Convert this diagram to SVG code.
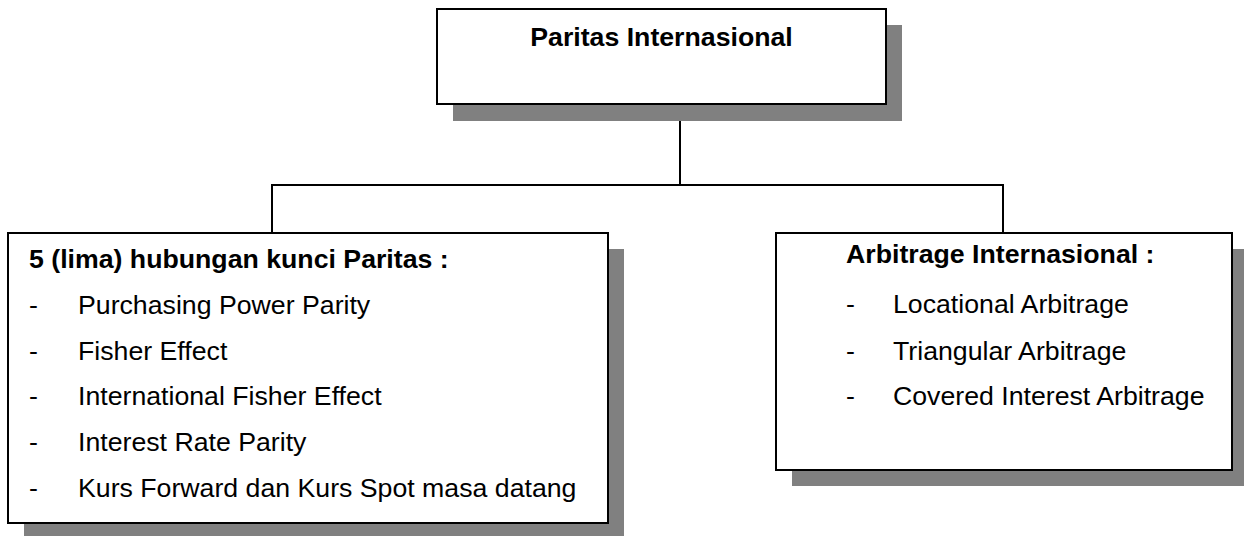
<svg xmlns="http://www.w3.org/2000/svg" width="1244" height="536" viewBox="0 0 1244 536">
<style>
.shadow{fill:#808080;stroke:none}
.box{fill:#ffffff;stroke:#000000;stroke-width:2}
.conn{stroke:#000000;stroke-width:2;fill:none}
.t{font-family:"Liberation Sans",Arial,sans-serif;font-size:26.7px;fill:#000000}
.b{font-weight:bold}
</style>
<rect width="1244" height="536" fill="#ffffff"/>
<g id="connectors">
<line class="conn" x1="680" y1="104" x2="680" y2="185"/>
<line class="conn" x1="271" y1="185" x2="1004" y2="185"/>
<line class="conn" x1="272" y1="185" x2="272" y2="233"/>
<line class="conn" x1="1003" y1="185" x2="1003" y2="233"/>
</g>
<g id="node-paritas">
<rect class="shadow" x="453" y="25" width="449" height="96"/>
<rect class="box" x="437" y="9" width="449" height="95"/>
<text class="t b" x="661.5" y="46" text-anchor="middle" font-size="24">Paritas Internasional</text>
</g>
<g id="node-hubungan">
<rect class="shadow" x="24" y="249" width="600" height="290"/>
<rect class="box" x="8" y="233" width="600" height="290"/>
<text class="t b" x="29" y="268" font-size="27">5 (lima) hubungan kunci Paritas :</text>
<text class="t" x="29" y="314">-</text><text class="t" x="78" y="314">Purchasing Power Parity</text>
<text class="t" x="29" y="360">-</text><text class="t" x="78" y="360">Fisher Effect</text>
<text class="t" x="29" y="405">-</text><text class="t" x="78" y="405">International Fisher Effect</text>
<text class="t" x="29" y="451">-</text><text class="t" x="78" y="451">Interest Rate Parity</text>
<text class="t" x="29" y="497">-</text><text class="t" x="78" y="497">Kurs Forward dan Kurs Spot masa datang</text>
</g>
<g id="node-arbitrage">
<rect class="shadow" x="792" y="249" width="456" height="237"/>
<rect class="box" x="776" y="233" width="456" height="237"/>
<text class="t b" x="846" y="263" font-size="26">Arbitrage Internasional :</text>
<text class="t" x="846" y="313">-</text><text class="t" x="893" y="313">Locational Arbitrage</text>
<text class="t" x="846" y="360">-</text><text class="t" x="893" y="360">Triangular Arbitrage</text>
<text class="t" x="846" y="405">-</text><text class="t" x="893" y="405">Covered Interest Arbitrage</text>
</g>
</svg>
